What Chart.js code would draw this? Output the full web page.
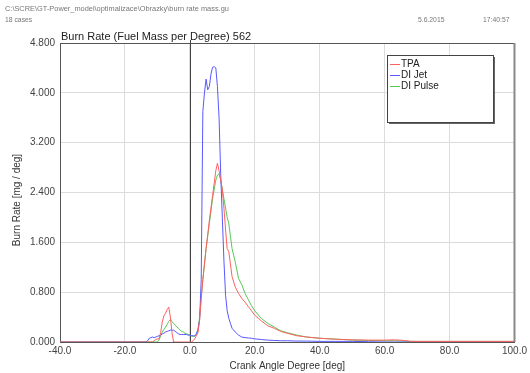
<!DOCTYPE html>
<html>
<head>
<meta charset="utf-8">
<script src="https://cdn.jsdelivr.net/npm/chart.js@4.4.1/dist/chart.umd.min.js"></script>
<style>
html,body{margin:0;padding:0;background:#fff;}
#wrap{position:relative;width:530px;height:373px;}
canvas{display:block;}
</style>
</head>
<body>
<div id="wrap"><canvas id="c" width="530" height="373"></canvas></div>
<script>
// ---- data ----
const angles = [-40,
 -14,-13.5,-13,-12.5,-12,-11.5,-11,-10.5,-10,-9.5,-9,-8.5,-8,-7.5,-7,-6.5,-6,-5.5,-5,-4.5,-4,-3.5,-3,-2.5,-2,-1.5,-1,-0.5,
 0,0.5,1,1.5,2,2.5,3,3.5,4,4.5,5,5.5,6,6.5,7,7.5,8,8.5,9,9.5,10,10.5,11,11.5,12,12.5,
 13,14,15,16,17,18,19,20,22,24,26,28,30,33,36,40,45,50,55,60,63,66,68,70,100];

const tpa = [0,
 0,0,0,0,0,0,0.02,0.04,0.05,0.05,0.15,0.32,0.42,0.46,0.52,0.56,0.40,0.15,0,0,0,0,0,0,0,0,0,0,
 0,0,0.02,0.05,0.1,0.15,0.35,0.7,1.0,1.25,1.5,1.72,1.95,2.15,2.35,2.55,2.75,2.87,2.75,2.6,2.45,2.15,1.8,1.5,1.45,1.25,
 1.05,0.88,0.78,0.70,0.64,0.57,0.50,0.43,0.34,0.26,0.22,0.17,0.14,0.10,0.08,0.06,0.045,0.035,0.03,0.03,0.035,0.025,0.012,0.01,0.01];

const diJet = [0,
 0,0,0.02,0.06,0.07,0.08,0.07,0.08,0.09,0.10,0.11,0.13,0.14,0.16,0.17,0.18,0.19,0.19,0.19,0.17,0.15,0.13,0.12,0.12,0.12,0.12,0.12,0.11,
 0.11,0.10,0.10,0.10,0.13,0.2,0.35,1.0,3.7,4.0,4.22,4.05,4.1,4.3,4.41,4.42,4.40,4.1,3.6,2.7,2.0,1.3,0.75,0.5,0.38,0.3,
 0.22,0.16,0.11,0.08,0.07,0.065,0.06,0.05,0.04,0.03,0.025,0.02,0.02,0.015,0.015,0.01,0.01,0.01,0.005,0,0,0,0,0,0];

const diPulse = [0,
 0,0,0,0,0,0,0,0,0,0.03,0.1,0.16,0.2,0.24,0.28,0.33,0.36,0.33,0.3,0.27,0.24,0.22,0.19,0.17,0.16,0.14,0.13,0.12,
 0.11,0.10,0.09,0.09,0.12,0.2,0.4,0.7,1.0,1.25,1.5,1.7,1.9,2.1,2.3,2.45,2.6,2.68,2.70,2.6,2.45,2.3,2.15,2.0,1.9,1.7,
 1.5,1.28,1.02,0.92,0.78,0.68,0.58,0.5,0.38,0.3,0.24,0.18,0.15,0.11,0.08,0.06,0.045,0.03,0.025,0.02,0.02,0.015,0.01,0.01,0.01];

const seriesNames = ['TPA', 'DI Jet', 'DI Pulse'];
const xTicks = [-40, -20, 0, 20, 40, 60, 80, 100];
const yTicks = [0, 0.8, 1.6, 2.4, 3.2, 4.0, 4.8];

const headerPath = 'C:\\SCRE\\GT-Power_model\\optimalizace\\Obrazky\\burn rate mass.gu';
const headerCases = '18 cases';
const headerDate = '5.6.2015';
const headerTime = '17:40:57';
const chartTitle = 'Burn Rate (Fuel Mass per Degree) 562';
const xTitle = 'Crank Angle Degree [deg]';
const yTitle = 'Burn Rate [mg / deg]';

const colors = ['#ff6060', '#5858ff', '#58c858'];
const FONT = '"Liberation Sans", Arial, sans-serif';

function pts(vals){ return angles.map((a,i)=>({x:a,y:vals[i]})); }

const deco = {
  id: 'deco',
  beforeDatasetsDraw(chart){
    const {ctx, chartArea:a, scales:{x}} = chart;
    ctx.save();
    ctx.strokeStyle = '#555';
    ctx.lineWidth = 1;
    ctx.beginPath();
    ctx.moveTo(a.left, a.top+0.5); ctx.lineTo(a.right, a.top+0.5);
    ctx.stroke();
    ctx.strokeStyle = '#888';
    ctx.lineWidth = 2;
    ctx.beginPath();
    ctx.moveTo(a.right, a.top); ctx.lineTo(a.right, a.bottom);
    ctx.stroke();
    const x0 = Math.round(x.getPixelForValue(0))+0.5;
    ctx.strokeStyle = '#444';
    ctx.lineWidth = 1;
    ctx.beginPath();
    ctx.moveTo(x0, a.top-3); ctx.lineTo(x0, a.bottom);
    ctx.stroke();
    ctx.restore();
  },
  afterDraw(chart){
    const {ctx, chartArea:a} = chart;
    ctx.save();
    ctx.fillStyle = '#777';
    ctx.textBaseline = 'middle';
    ctx.textAlign = 'left';
    ctx.font = '7.4px ' + FONT;
    ctx.fillText(headerPath, 5, 9);
    ctx.font = '6.8px ' + FONT;
    ctx.fillText(headerCases, 5, 20);
    ctx.fillText(headerDate, 418, 20);
    ctx.fillText(headerTime, 483, 20);
    ctx.fillStyle = '#222';
    ctx.font = '11px ' + FONT;
    ctx.fillText(chartTitle, a.left + 1, 37);
    ctx.fillStyle = '#333';
    ctx.font = '10px ' + FONT;
    ctx.textAlign = 'center';
    ctx.fillText(xTitle, (a.left+a.right)/2, 366);
    ctx.save();
    ctx.translate(17, 200);
    ctx.rotate(-Math.PI/2);
    ctx.fillText(yTitle, 0, 0);
    ctx.restore();
    const lx = 387, ly = 55, lw = 106, lh = 67;
    ctx.fillStyle = '#666';
    ctx.fillRect(lx+2, ly+2, lw, lh);
    ctx.fillStyle = '#fff';
    ctx.fillRect(lx, ly, lw, lh);
    ctx.strokeStyle = '#444';
    ctx.lineWidth = 1;
    ctx.strokeRect(lx+0.5, ly+0.5, lw, lh);
    ctx.textAlign = 'left';
    ctx.font = '10px ' + FONT;
    chart.data.datasets.forEach((ds, i) => {
      const yy = ly + 9 + i*11;
      ctx.strokeStyle = ds.borderColor;
      ctx.lineWidth = 1;
      ctx.beginPath();
      ctx.moveTo(lx+3, yy+0.5); ctx.lineTo(lx+13, yy+0.5);
      ctx.stroke();
      ctx.fillStyle = '#222';
      ctx.fillText(ds.label, lx+14, yy);
    });
    ctx.restore();
  }
};

new Chart(document.getElementById('c'), {
  type: 'line',
  data: {
    datasets: seriesNames.map((n,i)=>({
      label: n,
      data: pts([tpa, diJet, diPulse][i]),
      borderColor: colors[i],
      borderWidth: 1,
      pointRadius: 0,
      fill: false,
      tension: 0
    }))
  },
  options: {
    responsive: false,
    animation: false,
    layout: { padding: { top: 43, right: 15, left: 0, bottom: 0 } },
    plugins: { legend: { display: false }, tooltip: { enabled: false } },
    scales: {
      x: {
        type: 'linear', min: -40, max: 100,
        afterBuildTicks(s){ s.ticks = xTicks.map(v=>({value:v})); },
        afterFit(s){ s.height = 31; },
        grid: { color: '#dcdcdc', drawTicks: false },
        border: { color: '#555' },
        ticks: { padding: 3, color: '#444', font: { size: 10, family: FONT }, maxRotation: 0,
          callback: v => v.toFixed(1) }
      },
      y: {
        type: 'linear', min: 0, max: 4.8,
        afterBuildTicks(s){ s.ticks = yTicks.map(v=>({value:v})); },
        afterFit(s){ s.width = 60; },
        grid: { color: '#dcdcdc', drawTicks: false },
        border: { color: '#555' },
        ticks: { padding: 5, color: '#444', font: { size: 10, family: FONT },
          callback: v => v.toFixed(3) }
      }
    }
  },
  plugins: [deco]
});
</script>
</body>
</html>
